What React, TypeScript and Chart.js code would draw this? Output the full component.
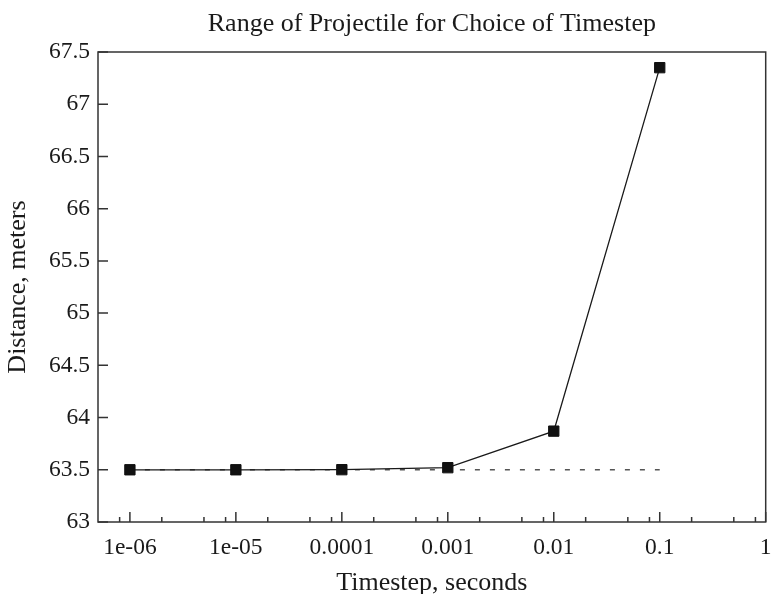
import React, { useEffect, useRef } from "react";
import { Chart, registerables } from "chart.js";

Chart.register(...registerables);

// ---- data ----
const timesteps = [1e-6, 1e-5, 1e-4, 1e-3, 1e-2, 1e-1];
const distances = [63.5, 63.5, 63.501, 63.52, 63.87, 67.35];
const referenceDistance = 63.5;
const xTickValues = [1e-6, 1e-5, 1e-4, 1e-3, 1e-2, 1e-1, 1];
const xTickLabels = ["1e-06", "1e-05", "0.0001", "0.001", "0.01", "0.1", "1"];
const xMinorMultipliers = [2, 5, 8];
const yTickValues = [63, 63.5, 64, 64.5, 65, 65.5, 66, 66.5, 67, 67.5];
const yTickLabels = ["63", "63.5", "64", "64.5", "65", "65.5", "66", "66.5", "67", "67.5"];

const FONT = "'Liberation Serif', 'Times New Roman', serif";
const INK = "#1a1a1a";

const framePlugin = {
  id: "frame",
  afterDraw(chart: any) {
    const { ctx, chartArea } = chart;
    const xs = chart.scales.x;
    const ys = chart.scales.y;
    const { left, right, top, bottom } = chartArea;
    ctx.save();
    ctx.strokeStyle = "#333";
    ctx.lineWidth = 1.5;
    ctx.beginPath();
    xTickValues.forEach((v) => {
      const px = xs.getPixelForValue(v);
      ctx.moveTo(px, bottom);
      ctx.lineTo(px, bottom - 10);
    });
    const decades = [1e-7, ...xTickValues];
    decades.forEach((d) => {
      xMinorMultipliers.forEach((m) => {
        const v = d * m;
        if (v > xs.min && v < xs.max) {
          const px = xs.getPixelForValue(v);
          ctx.moveTo(px, bottom);
          ctx.lineTo(px, bottom - 5);
        }
      });
    });
    yTickValues.forEach((v) => {
      const py = ys.getPixelForValue(v);
      ctx.moveTo(left, py);
      ctx.lineTo(left + 10, py);
    });
    ctx.stroke();
    ctx.strokeRect(left, top, right - left, bottom - top);
    ctx.restore();
  },
};

export default function App() {
  const ref = useRef<HTMLCanvasElement | null>(null);
  useEffect(() => {
    if (!ref.current) return;
    const chart = new Chart(ref.current, {
      type: "line",
      data: {
        datasets: [
          {
            label: "Distance",
            data: timesteps.map((t, i) => ({ x: t, y: distances[i] })),
            borderColor: INK,
            borderWidth: 1.3,
            pointStyle: "rect",
            pointRadius: 7.3,
            pointBackgroundColor: "#111",
            pointBorderColor: "#111",
            pointBorderWidth: 1,
            tension: 0,
          },
          {
            label: "Reference",
            data: [
              { x: timesteps[0], y: referenceDistance },
              { x: timesteps[timesteps.length - 1], y: referenceDistance },
            ],
            borderColor: "#555",
            borderWidth: 1.5,
            borderDash: [5, 10],
            pointRadius: 0,
            tension: 0,
          },
        ],
      },
      options: {
        responsive: false,
        animation: false,
        layout: { padding: { left: 0, right: 5, top: 0, bottom: 0 } },
        plugins: {
          legend: { display: false },
          tooltip: { enabled: false },
          title: {
            display: true,
            fullSize: false,
            text: "Range of Projectile for Choice of Timestep",
            color: INK,
            font: { family: FONT, size: 26, weight: "normal", lineHeight: 1.2 },
            padding: { top: 8.6, bottom: 12.2 },
          },
        },
        scales: {
          x: {
            type: "logarithmic",
            min: 5e-7,
            max: 1,
            grid: { display: false, drawTicks: false },
            border: { display: false },
            afterBuildTicks: (scale: any) => {
              scale.ticks = xTickValues.map((v) => ({ value: v }));
            },
            afterFit: (scale: any) => {
              scale.height = 72;
              scale.paddingLeft = 0;
              scale.paddingRight = 0;
            },
            ticks: {
              autoSkip: false,
              maxRotation: 0,
              padding: 12,
              color: INK,
              font: { family: FONT, size: 23.5 },
              callback: (_v: any, i: number) => xTickLabels[i],
            },
            title: {
              display: true,
              text: "Timestep, seconds",
              color: INK,
              font: { family: FONT, size: 26, lineHeight: 0.8 },
              padding: { top: 0, bottom: 0.6 },
            },
          },
          y: {
            type: "linear",
            min: 63,
            max: 67.5,
            grid: { display: false, drawTicks: false },
            border: { display: false },
            afterBuildTicks: (scale: any) => {
              scale.ticks = yTickValues.map((v) => ({ value: v }));
            },
            afterFit: (scale: any) => {
              scale.width = 98;
              scale.paddingTop = 0;
              scale.paddingBottom = 0;
            },
            ticks: {
              autoSkip: false,
              padding: 8,
              color: INK,
              font: { family: FONT, size: 23.5 },
              callback: (_v: any, i: number) => yTickLabels[i],
            },
            title: {
              display: true,
              text: "Distance, meters",
              color: INK,
              font: { family: FONT, size: 26, lineHeight: 1 },
              padding: { top: 5, bottom: 0 },
            },
          },
        },
      },
      plugins: [framePlugin],
    } as any);
    return () => chart.destroy();
  }, []);
  return (
    <canvas
      ref={ref}
      width={774}
      height={594}
      style={{ position: "absolute", left: 0, top: 0, width: 774, height: 594 }}
    />
  );
}
